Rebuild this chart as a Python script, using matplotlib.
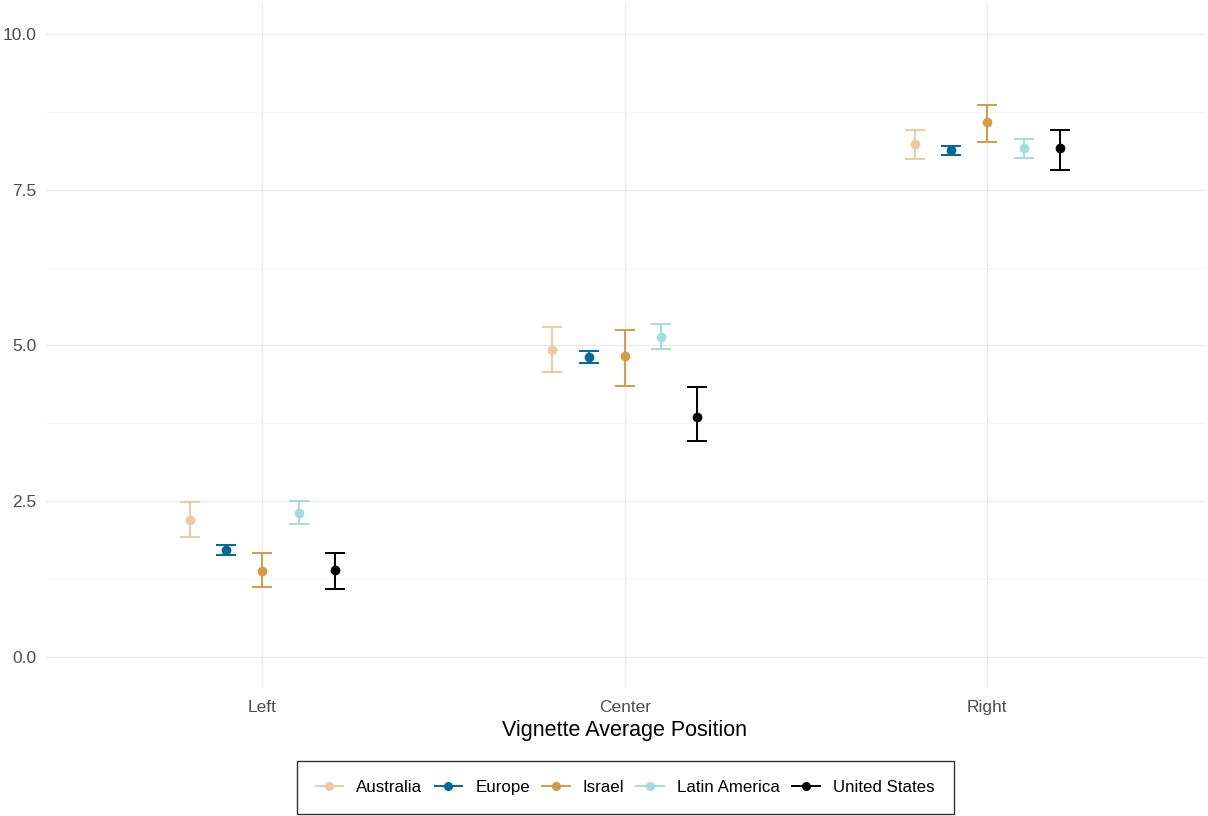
import numpy as np
import matplotlib
matplotlib.use("Agg")
from matplotlib import pyplot as plt
from matplotlib.lines import Line2D

plt.rcParams['font.family'] = ['Liberation Sans', 'DejaVu Sans']

positions = ["Left", "Center", "Right"]
regions = ["Australia", "Europe", "Israel", "Latin America", "United States"]
colors = ["#EFC9A4", "#00689A", "#D59A44", "#A6DCDC", "#000000"]

# mean, lower and upper bound per region, ordered Left / Center / Right
means = {
    "Australia":     [2.20, 4.93, 8.23],
    "Europe":        [1.72, 4.82, 8.14],
    "Israel":        [1.38, 4.83, 8.59],
    "Latin America": [2.31, 5.14, 8.17],
    "United States": [1.40, 3.85, 8.17],
}
lower = {
    "Australia":     [1.93, 4.57, 7.99],
    "Europe":        [1.64, 4.72, 8.06],
    "Israel":        [1.12, 4.35, 8.27],
    "Latin America": [2.13, 4.94, 8.01],
    "United States": [1.09, 3.47, 7.82],
}
upper = {
    "Australia":     [2.49, 5.30, 8.46],
    "Europe":        [1.80, 4.91, 8.20],
    "Israel":        [1.67, 5.25, 8.86],
    "Latin America": [2.50, 5.35, 8.31],
    "United States": [1.67, 4.33, 8.46],
}

fig = plt.figure(figsize=(12.08, 8.16), dpi=100)
ax = fig.add_axes([0.0373, 0.157, 0.96, 0.8393])

x = np.arange(1, len(positions) + 1)
dodge = 0.5
step = dodge / len(regions)
for i, (reg, col) in enumerate(zip(regions, colors)):
    off = -dodge / 2 + step * (i + 0.5)
    m = np.array(means[reg])
    err = [m - np.array(lower[reg]), np.array(upper[reg]) - m]
    ax.errorbar(x + off, m, yerr=err, fmt='o', color=col, ecolor=col,
                elinewidth=1.4, capsize=7.5, capthick=1.4, markersize=6,
                zorder=3)

ax.set_xlim(0.4, 3.6)
ax.set_ylim(-0.5, 10.5)
ax.set_xticks(x)
ax.set_xticklabels(positions)
ax.set_yticks([0, 2.5, 5, 7.5, 10])
ax.set_yticklabels(["0.0", "2.5", "5.0", "7.5", "10.0"])
ax.set_yticks([1.25, 3.75, 6.25, 8.75], minor=True)

ax.grid(True, which='major', color='#EBEBEB', linewidth=1.0, zorder=0)
ax.grid(True, which='minor', axis='y', color='#F5F5F5', linewidth=0.7, zorder=0)
ax.set_axisbelow(True)
for s in ax.spines.values():
    s.set_visible(False)
ax.tick_params(which='both', length=0, labelsize=12.5, labelcolor='#4D4D4D')
ax.tick_params(axis='x', pad=9)
ax.tick_params(axis='y', pad=6)

ax.set_xlabel("Vignette Average Position", fontsize=15.5, color='black', labelpad=3)

handles = [Line2D([0], [0], color=c, marker='o', markersize=5.5, linewidth=1.4)
           for c in colors]
leg = fig.legend(handles, regions, loc='center', bbox_to_anchor=(0.5174, 0.0355),
                 ncol=5, frameon=True, fancybox=False, fontsize=12.2,
                 handlelength=1.65, handletextpad=0.75, columnspacing=0.72,
                 borderpad=1.12, edgecolor='black')
leg.get_frame().set_linewidth(1.0)

fig.savefig("out.png", dpi=100)
